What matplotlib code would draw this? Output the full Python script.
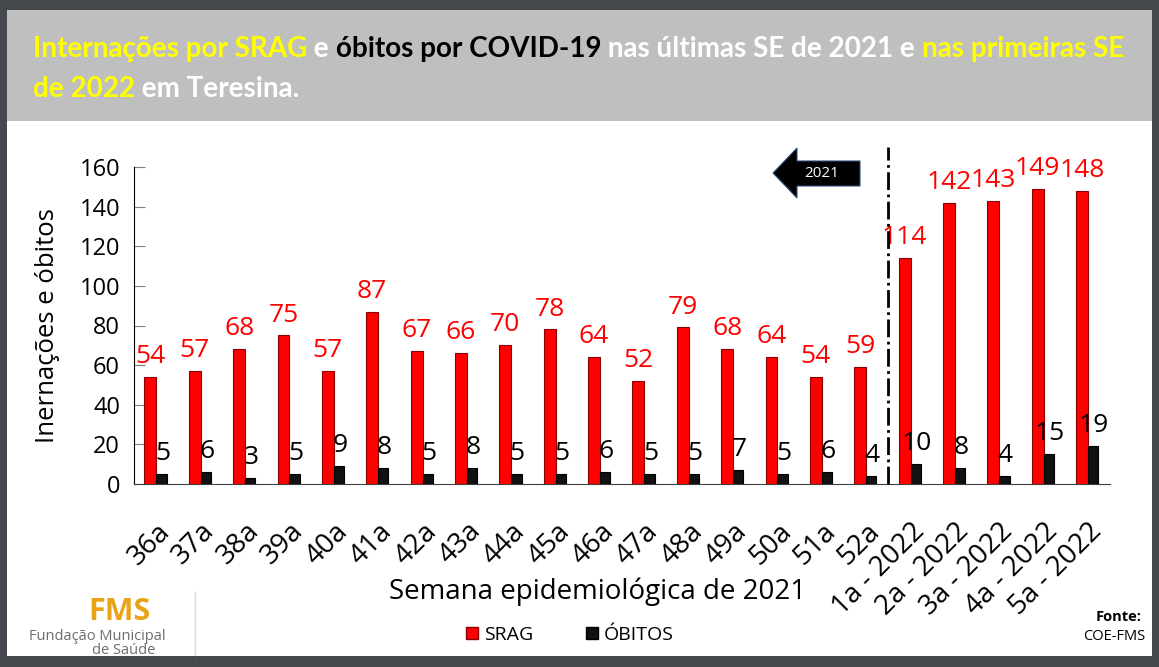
import matplotlib
matplotlib.use("Agg")
import matplotlib.pyplot as plt
import numpy as np
from matplotlib.patches import Rectangle, Polygon
from matplotlib.lines import Line2D

# data
semanas = ["36a", "37a", "38a", "39a", "40a", "41a", "42a", "43a", "44a", "45a",
           "46a", "47a", "48a", "49a", "50a", "51a", "52a",
           "1a - 2022", "2a - 2022", "3a - 2022", "4a - 2022", "5a - 2022"]
srag = [54, 57, 68, 75, 57, 87, 67, 66, 70, 78, 64, 52, 79, 68, 64, 54, 59,
        114, 142, 143, 149, 148]
obitos = [5, 6, 3, 5, 9, 8, 5, 8, 5, 5, 6, 5, 5, 7, 5, 6, 4,
          10, 8, 4, 15, 19]
y_ticks = [0, 20, 40, 60, 80, 100, 120, 140, 160]

plt.rcParams['font.family'] = ['Open Sans', 'DejaVu Sans']

W, H = 1159, 667
fig = plt.figure(figsize=(W / 100, H / 100), dpi=100)
fig.patch.set_facecolor('white')


def fx(px):
    return px / W


def fy(py):
    return 1 - py / H


# frame: dark border, grey title band
dark = '#45484d'
fig.patches.append(Rectangle((0, 0), 1, 1, transform=fig.transFigure,
                             facecolor=dark, edgecolor='none', zorder=-10))
fig.patches.append(Rectangle((fx(7), fy(656)), fx(1152 - 7), (656 - 10) / H,
                             transform=fig.transFigure, facecolor='white',
                             edgecolor='none', zorder=-9))
fig.patches.append(Rectangle((fx(7), fy(121)), fx(1152 - 7), (121 - 10) / H,
                             transform=fig.transFigure, facecolor='#bfbfbf',
                             edgecolor='none', zorder=-8))

# title in coloured pieces
yellow = '#ffff00'
line1 = [("Internações por SRAG", yellow), (" e ", 'white'),
         ("óbitos por COVID-19", 'black'),
         (" nas últimas SE de 2021 e ", 'white'), ("nas primeiras SE", yellow)]
line2 = [("de 2022", yellow), (" em Teresina.", 'white')]
title_font = ['Lato', 'DejaVu Sans']
renderer = fig.canvas.get_renderer()


def text_width(s, size):
    t = fig.text(0, 0, s + "x", fontsize=size, fontweight='bold', family=title_font)
    t2 = fig.text(0, 0, "x", fontsize=size, fontweight='bold', family=title_font)
    w = t.get_window_extent(renderer).width - t2.get_window_extent(renderer).width
    t.remove()
    t2.remove()
    return w


full1 = "".join(s for s, _ in line1)
tsize = 18 * (1094 / text_width(full1, 18))


def draw_line(parts, x0, ybase):
    prefix = ""
    for s, c in parts:
        x = x0 + (text_width(prefix, tsize) if prefix else 0)
        fig.text(fx(x), fy(ybase), s, color=c, fontsize=tsize,
                 fontweight='bold', family=title_font, va='baseline', ha='left')
        prefix += s


draw_line(line1, 33, 57)
draw_line(line2, 33, 97)

# main axes
ax = fig.add_axes([fx(134), fy(484), fx(1110 - 134), (484 - 167) / H])
x = np.arange(len(semanas))
b1 = ax.bar(x - 0.13, srag, width=0.27, color='#ff0000', edgecolor='#8b0000',
            linewidth=0.8, label='SRAG', zorder=3)
b2 = ax.bar(x + 0.12, obitos, width=0.23, color='#111111', edgecolor='black',
            linewidth=0.8, label='ÓBITOS', zorder=3)

for xi, v in zip(x, srag):
    ax.text(xi - 0.13, v + 7, str(v), color='#ff0000', fontsize=19,
            ha='center', va='baseline')
for xi, v in zip(x, obitos):
    ax.text(xi + 0.14, v + 7, str(v), color='black', fontsize=19,
            ha='center', va='baseline')

ax.set_xlim(-0.5, len(semanas) - 0.5)
ax.set_ylim(0, 160)
ax.set_yticks(y_ticks)
ax.tick_params(axis='y', direction='in', length=8, color='#808080',
               labelsize=17, pad=10)
ax.set_xticks(x)
ax.set_xticklabels(semanas, rotation=45, ha='right', va='top',
                   rotation_mode='anchor', fontsize=20)
ax.tick_params(axis='x', length=0, pad=24)
for sp in ['top', 'right']:
    ax.spines[sp].set_visible(False)
ax.spines['left'].set_color('black')
ax.spines['bottom'].set_color('#404040')
ax.set_ylabel("Inernações e óbitos", fontsize=18.5, labelpad=14)

# separation between 2021 and 2022
ax.plot([16.5, 16.5], [0, 170], color='black', linestyle='-.', linewidth=2,
        clip_on=False, zorder=4)

fig.text(fx(598), fy(592), "Semana epidemiológica de 2021", fontsize=20,
         ha='center', va='center')

# "2021" arrow
arrow = Polygon([(fx(773), fy(173)), (fx(797), fy(148)), (fx(797), fy(161)),
                 (fx(860), fy(161)), (fx(860), fy(186)), (fx(797), fy(186)),
                 (fx(797), fy(198))], closed=True, transform=fig.transFigure,
                facecolor='black', edgecolor='#2f4f7f', linewidth=0.8)
fig.patches.append(arrow)
fig.text(fx(822), fy(173), "2021", color='white', fontsize=11,
         ha='center', va='center')

# legend
handles = [Line2D([], [], marker='s', linestyle='none', markersize=8,
                  markerfacecolor='#ff0000', markeredgecolor='#8b0000'),
           Line2D([], [], marker='s', linestyle='none', markersize=8,
                  markerfacecolor='#111111', markeredgecolor='black')]
fig.legend(handles, ['SRAG', 'ÓBITOS'], loc='center', ncol=2,
           bbox_to_anchor=(fx(568), fy(635)), frameon=False, fontsize=14,
           handletextpad=0.1, columnspacing=2.5, handlelength=1.0)

# logo and source
fig.text(fx(119), fy(612), "FMS", color='#e8a317', fontsize=22,
         fontweight='bold', ha='center', va='center')
fig.text(fx(166), fy(637), "Fundação Municipal", color='#6d6d6d', fontsize=10.5,
         ha='right', va='center')
fig.text(fx(155), fy(650), "de Saúde", color='#6d6d6d', fontsize=10.5,
         ha='right', va='center')
fig.add_artist(Line2D([fx(195), fx(195)], [fy(592), fy(655)],
                      color='#d9d9d9', linewidth=1))
fig.text(fx(1142), fy(617), "Fonte:", fontsize=10.5, fontweight='bold',
         ha='right', va='center')
fig.text(fx(1145), fy(637), "COE-FMS", fontsize=10.5, ha='right', va='center')

fig.savefig("out.png", dpi=100, facecolor=fig.get_facecolor())
